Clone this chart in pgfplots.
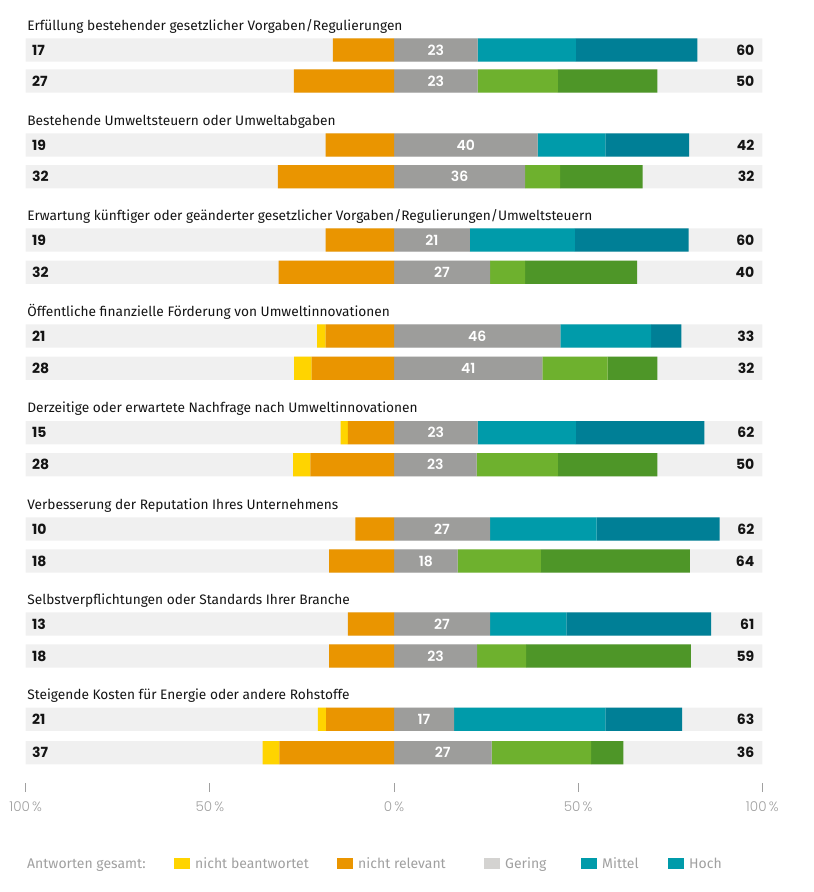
\documentclass[border=0pt]{standalone}
\usepackage{pgfplots}
\pgfplotsset{compat=1.18}
\usepackage{pgfplotstable}
\usepackage{fontspec}
\setmainfont{Fira Sans}
\newfontfamily\numfont{Poppins}[UprightFont=* SemiBold]
\newfontfamily\numboldfont{Poppins}[UprightFont=* Bold]
\newfontfamily\tickfont{Poppins}[UprightFont=* Light]

\definecolor{cYellow}{HTML}{FFD400}
\definecolor{cOrange}{HTML}{EA9500}
\definecolor{cGray}{HTML}{9D9D9B}
\definecolor{cMittel}{HTML}{009BAA}
\definecolor{cHoch}{HTML}{007F96}
\definecolor{cLGreen}{HTML}{6EB12E}
\definecolor{cDGreen}{HTML}{4E9628}
\definecolor{cBand}{HTML}{F0F0F0}
\definecolor{cLegGray}{HTML}{D4D3D1}
\definecolor{cLegTeal}{HTML}{009BAA}
\definecolor{cText}{HTML}{141414}
\definecolor{cAxis}{HTML}{A0A0A0}

% y = row centre (px from top), ny = nicht beantwortet, nr = nicht relevant,
% g = Gering, m = Mittel, h = Hoch, L/G/R = printed labels
\pgfplotstableread{
y      ny   nr    g     m     h     L   G   R
50     0    16.6  22.7  26.7  33.0  17  23  60
145    0    18.6  39.0  18.4  22.7  19  40  42
240    0    18.6  20.6  28.5  30.9  19  21  60
336    2.3  18.6  45.2  24.6  8.2   21  46  33
432.7  2.0  12.5  22.7  26.7  34.9  15  23  62
529    0    10.5  26.1  28.9  33.4  10  27  62
624    0    12.5  26.1  20.7  39.3  13  27  61
719.3  2.3  18.4  16.3  41.1  20.8  21  17  63
}\blueRows
\pgfplotstableread{
y      ny   nr    g     m     h     L   G   R
81     0    27.2  22.7  21.8  27.0  27  23  50
176.7  0    31.5  35.6  9.5   22.4  32  36  32
272.3  0    31.3  26.1  9.5   30.4  32  27  40
368.3  4.7  22.4  40.3  17.7  13.5  28  41  32
464.7  4.7  22.7  22.4  22.1  27.0  28  23  50
561    0    17.6  17.3  22.6  40.4  18  18  64
656    0    17.6  22.6  13.3  44.7  18  23  59
752.7  4.6  31.1  26.5  27.0  8.8   37  27  36
}\greenRows

\pgfplotsset{
  base/.style={at={(25.7pt,0pt)}, anchor=north west, scale only axis,
    width=736.6pt, height=783pt, xmin=-100, xmax=100, ymin=0, ymax=783,
    y dir=reverse, clip=false},
  bars/.style={base, hide axis, xbar stacked, bar width=23.3pt},
  lab/.style={draw=none, mark=none, nodes near coords, point meta=explicit symbolic},
  numL/.style={lab, nodes near coords style={anchor=west, font=\numboldfont\fontsize{14}{16}\selectfont, text=cText}},
  numR/.style={lab, nodes near coords style={anchor=east, font=\numboldfont\fontsize{14}{16}\selectfont, text=cText}},
  numG/.style={lab, nodes near coords style={anchor=center, font=\numfont\fontsize{14}{16}\selectfont, text=white}},
}
\tikzset{ttl/.style={anchor=base west, font=\fontsize{13.7}{16}\selectfont, text=cText, inner sep=0pt}}

\begin{document}
\begin{tikzpicture}
\path (0pt,0pt) rectangle (814pt,-892pt);

% background bands and x ticks
\begin{axis}[base, axis x line=bottom, axis y line=none,
  axis line style={draw=none},
  xtick={-100,-50,0,50,100},
  xticklabels={100\,\%,50\,\%,0\,\%,50\,\%,100\,\%},
  tick align=outside, major tick length=9pt,
  x tick style={cAxis, line width=0.9pt},
  xticklabel style={font=\tickfont\fontsize{13.5}{15}\selectfont, text=cAxis, yshift=-6pt},
  xbar, bar width=23.3pt]
\addplot[fill=cBand, draw=none, bar shift=0pt] table[x expr=-100, y=y] {\blueRows};
\addplot[fill=cBand, draw=none, bar shift=0pt] table[x expr=100, y=y] {\blueRows};
\addplot[fill=cBand, draw=none, bar shift=0pt] table[x expr=-100, y=y] {\greenRows};
\addplot[fill=cBand, draw=none, bar shift=0pt] table[x expr=100, y=y] {\greenRows};
\end{axis}

% blue rows
\begin{axis}[bars]
\addplot[fill=cOrange, draw=none] table[x expr=-\thisrow{nr}, y=y] {\blueRows};
\addplot[fill=cYellow, draw=none] table[x expr=-\thisrow{ny}, y=y] {\blueRows};
\addplot[fill=cGray, draw=none] table[x=g, y=y] {\blueRows};
\addplot[fill=cMittel, draw=none] table[x=m, y=y] {\blueRows};
\addplot[fill=cHoch, draw=none] table[x=h, y=y] {\blueRows};
\end{axis}

% green rows
\begin{axis}[bars]
\addplot[fill=cOrange, draw=none] table[x expr=-\thisrow{nr}, y=y] {\greenRows};
\addplot[fill=cYellow, draw=none] table[x expr=-\thisrow{ny}, y=y] {\greenRows};
\addplot[fill=cGray, draw=none] table[x=g, y=y] {\greenRows};
\addplot[fill=cLGreen, draw=none] table[x=m, y=y] {\greenRows};
\addplot[fill=cDGreen, draw=none] table[x=h, y=y] {\greenRows};
\end{axis}

% labels
\begin{axis}[base, hide axis]
\addplot[numL] table[x expr=-99.2, y=y, meta=L] {\blueRows};
\addplot[numR] table[x expr=98.8, y=y, meta=R] {\blueRows};
\addplot[numG] table[x expr=\thisrow{g}/2, y=y, meta=G] {\blueRows};
\addplot[numL] table[x expr=-99.2, y=y, meta=L] {\greenRows};
\addplot[numR] table[x expr=98.8, y=y, meta=R] {\greenRows};
\addplot[numG] table[x expr=\thisrow{g}/2, y=y, meta=G] {\greenRows};
\node[ttl] at (axis cs:-99.6,30) {Erfüllung bestehender gesetzlicher Vorgaben/Regulierungen};
\node[ttl] at (axis cs:-99.6,125) {Bestehende Umweltsteuern oder Umweltabgaben};
\node[ttl] at (axis cs:-99.6,220) {Erwartung künftiger oder geänderter gesetzlicher Vorgaben/Regulierungen/Umweltsteuern};
\node[ttl] at (axis cs:-99.6,316) {Öffentliche finanzielle Förderung von Umweltinnovationen};
\node[ttl] at (axis cs:-99.6,412.7) {Derzeitige oder erwartete Nachfrage nach Umweltinnovationen};
\node[ttl] at (axis cs:-99.6,509) {Verbesserung der Reputation Ihres Unternehmens};
\node[ttl] at (axis cs:-99.6,604) {Selbstverpflichtungen oder Standards Ihrer Branche};
\node[ttl] at (axis cs:-99.6,699.3) {Steigende Kosten für Energie oder andere Rohstoffe};
\end{axis}

% legend
\begin{scope}[font=\fontsize{14}{16}\selectfont, inner sep=0pt]
\node[anchor=base west, text=cAxis] at (27pt,-868pt) {Antworten gesamt:};
\fill[cYellow] (174pt,-857.7pt) rectangle (190pt,-868.7pt);
\node[anchor=base west, text=cAxis] at (195pt,-868pt) {nicht beantwortet};
\fill[cOrange] (337pt,-857.7pt) rectangle (353pt,-868.7pt);
\node[anchor=base west, text=cAxis] at (358pt,-868pt) {nicht relevant};
\fill[cLegGray] (484pt,-857.7pt) rectangle (500pt,-868.7pt);
\node[anchor=base west, text=cAxis] at (505pt,-868pt) {Gering};
\fill[cLegTeal] (581pt,-857.7pt) rectangle (597pt,-868.7pt);
\node[anchor=base west, text=cAxis] at (602pt,-868pt) {Mittel};
\fill[cLegTeal] (668pt,-857.7pt) rectangle (684pt,-868.7pt);
\node[anchor=base west, text=cAxis] at (689pt,-868pt) {Hoch};
\end{scope}
\end{tikzpicture}
\end{document}
